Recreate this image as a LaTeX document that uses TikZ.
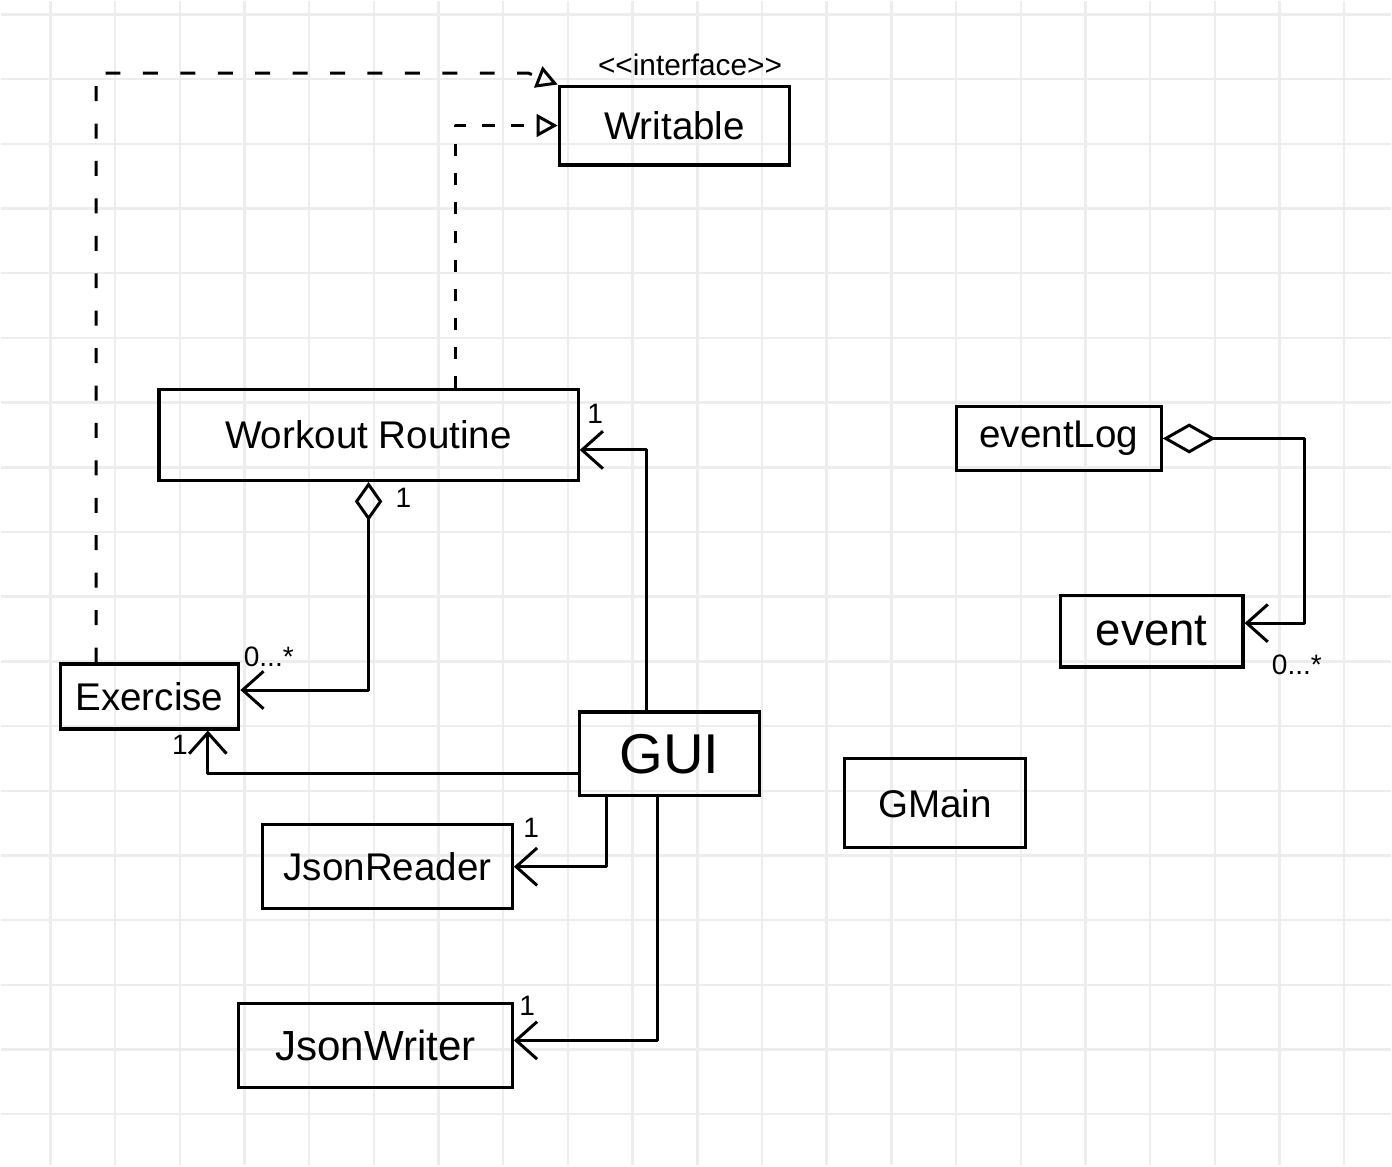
\documentclass[tikz,border=0pt]{standalone}
\usepackage{fontspec}
\setmainfont{Liberation Sans}
\usetikzlibrary{arrows.meta}
\begin{document}
\begin{tikzpicture}[x=0.02cm, y=-0.02cm,
  cls/.style={draw, line width=1.8pt, inner sep=0pt, font=\fontsize{22}{26}\selectfont},
  link/.style={line width=1.7pt, line join=round},
  realize/.style={link, -{Triangle[open, length=0.42cm, width=0.45cm, line width=1.7pt]}},
  assoc/.style={link, -{Straight Barb[length=0.42cm, width=0.75cm, line width=1.7pt]}},
  mult/.style={font=\fontsize{16}{18}\selectfont}]
% Paper and grid
\fill[white] (0,0) rectangle (1392,1166);
\foreach \gx in {0,...,20}
  \draw[gray!14, line width=1.4pt] (49.3+64.8*\gx,0) -- (49.3+64.8*\gx,1166);
\foreach \gy in {0,...,17}
  \draw[gray!14, line width=1.4pt] (0,13.3+64.8*\gy) -- (1392,13.3+64.8*\gy);
% Classes
\node[cls, minimum width=4.62cm, minimum height=1.58cm] (writable) at (674.5,124.5) {Writable};
\node[font=\fontsize{17}{20}\selectfont] (ifc) at (690,64) {<{}<interface>{}>};
\node[cls, minimum width=8.4cm, minimum height=1.82cm] (routine) at (368,434.5) {Workout Routine};
\node[cls, minimum width=3.58cm, minimum height=1.3cm] (exercise) at (148.5,696.5) {Exercise};
\node[cls, minimum width=3.62cm, minimum height=1.68cm, font=\fontsize{32}{36}\selectfont] (gui) at (669.5,754) {GUI};
\node[cls, minimum width=5cm, minimum height=1.68cm] (reader) at (387,867) {JsonReader};
\node[cls, minimum width=5.48cm, minimum height=1.68cm, font=\fontsize{24}{28}\selectfont] (writer) at (375,1046) {JsonWriter};
\node[cls, minimum width=3.62cm, minimum height=1.78cm] (gmain) at (935.5,803.5) {GMain};
\node[cls, minimum width=4.1cm, minimum height=1.28cm] (eventlog) at (1059.5,438) {eventLog};
\node[cls, minimum width=3.66cm, minimum height=1.44cm, font=\fontsize{26}{30}\selectfont] (event) at (1152.5,631) {event};
% Realizations
\coordinate (bend) at (528,72);
\draw[realize, dash pattern=on 0.3cm off 0.45cm] ([xshift=-1.07cm]exercise.north) |- (bend) -- (writable.north west);
\draw[realize, dash pattern=on 0.25cm off 0.33cm] ([xshift=1.74cm]routine.north) |- (writable.west);
% Associations
\draw[link, {Diamond[open, length=0.78cm, width=0.55cm, line width=1.7pt]}-{Straight Barb[length=0.42cm, width=0.75cm, line width=1.7pt]}] (routine.south) |- ([yshift=0.13cm]exercise.east);
\draw[assoc] ([xshift=-0.47cm]gui.north) |- ([yshift=-0.3cm]routine.east);
\draw[assoc] ([yshift=-0.4cm]gui.west) -| ([xshift=1.17cm]exercise.south);
\draw[assoc] ([xshift=-1.27cm]gui.south) |- (reader.east);
\draw[assoc] ([xshift=-0.25cm]gui.south) |- ([yshift=0.1cm]writer.east);
\draw[link, {Diamond[open, length=1.06cm, width=0.6cm, line width=1.7pt]}-{Straight Barb[length=0.42cm, width=0.75cm, line width=1.7pt]}] (eventlog.east) -- ++(2.84cm,0) |- ([yshift=0.16cm]event.east);
% Multiplicities
\node[mult] (m1) at (403,497) {1};
\node[mult] (m2) at (268,657) {0...*};
\node[mult] (m3) at (595,413) {1};
\node[mult] (m4) at (179,745) {1};
\node[mult] (m5) at (531,828) {1};
\node[mult] (m6) at (527,1006) {1};
\node[mult] (m7) at (1298,665) {0...*};
\end{tikzpicture}
\end{document}
